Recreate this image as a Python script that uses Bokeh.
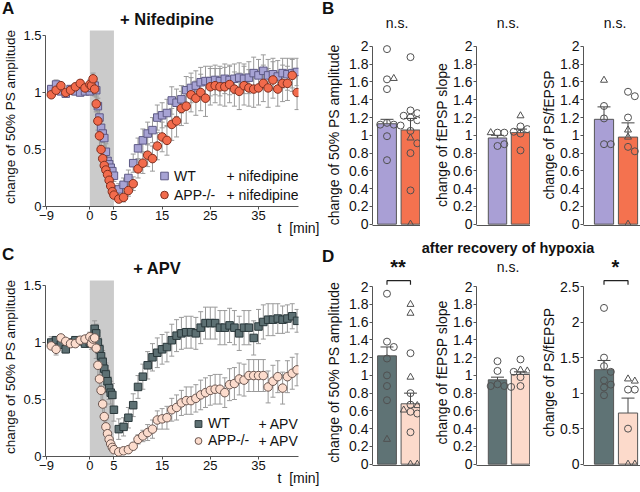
from bokeh.plotting import figure
from bokeh.models import (Range1d, FixedTicker, NumeralTickFormatter, BoxAnnotation,
                          Whisker, TeeHead, ColumnDataSource, Label, Legend, LegendItem, Div)
from bokeh.layouts import row, column
from bokeh.core.properties import value, field
from bokeh.embed import file_html
from bokeh.resources import INLINE

FONT = "Liberation Sans"
AX = "#555555"
ERR = "#9a9a9a"

# ---------------- time-course data (panels A and C) ----------------
time_min = [-8, -7, -6, -5, -4, -3, -2, -1,
            0, 0.33, 0.67, 1, 1.33, 1.67, 2, 2.33, 2.67, 3, 3.33, 3.67, 4, 4.33, 4.67, 5,
            6, 7, 8, 9, 10, 11, 12, 13, 14, 15, 16, 17, 18, 19, 20, 21, 22, 23, 24, 25,
            26, 27, 28, 29, 30, 31, 32, 33, 34, 35, 36, 37, 38, 39, 40, 41, 42, 43]
hypoxia_window = [0, 5]
x_ticks = [-9, 0, 5, 15, 25, 35]
tc_y_ticks = [0, 0.5, 1, 1.5]

wt_nif = [1.03, 1.07, 1.01, 0.99, 1.03, 1.01, 1.00, 1.01,
          1.01, 1.04, 1.07, 1.06, 1.02, 0.88, 0.78, 0.69, 0.64, 0.60, 0.48, 0.40, 0.37, 0.34, 0.31, 0.27,
          0.15, 0.19, 0.25, 0.38, 0.51, 0.58, 0.64, 0.67, 0.78, 0.80, 0.82, 0.93, 0.91, 0.94, 1.02, 1.04, 1.06, 1.09, 1.10, 1.10,
          1.11, 1.10, 1.12, 1.11, 1.12, 1.13, 1.12, 1.13, 1.17, 1.15, 1.19, 1.15, 1.16, 1.14, 1.17, 1.16, 1.17, 1.18]
wt_nif_sem = [0.03, 0.04, 0.03, 0.03, 0.03, 0.03, 0.03, 0.03,
              0.03, 0.04, 0.05, 0.06, 0.06, 0.07, 0.08, 0.08, 0.08, 0.07, 0.07, 0.07, 0.06, 0.06, 0.06, 0.05,
              0.05, 0.06, 0.07, 0.08, 0.09, 0.10, 0.10, 0.11, 0.11, 0.11, 0.12, 0.12, 0.12, 0.12, 0.12, 0.13, 0.13, 0.13, 0.13, 0.13,
              0.13, 0.13, 0.13, 0.13, 0.13, 0.13, 0.13, 0.14, 0.14, 0.14, 0.14, 0.14, 0.14, 0.14, 0.13, 0.14, 0.13, 0.12]
app_nif = [0.98, 1.02, 1.06, 1.00, 1.02, 1.05, 1.08, 1.04,
           1.07, 1.06, 1.12, 1.03, 0.90, 0.75, 0.62, 0.50, 0.42, 0.36, 0.32, 0.28, 0.23, 0.18, 0.13, 0.10,
           0.065, 0.08, 0.14, 0.20, 0.33, 0.38, 0.45, 0.42, 0.53, 0.61, 0.58, 0.72, 0.75, 0.86, 0.88, 0.98, 0.95, 1.00, 0.95, 1.05,
           1.06, 1.05, 1.05, 1.07, 1.03, 1.01, 1.06, 1.04, 1.03, 1.04, 1.08, 1.04, 1.11, 1.03, 1.08, 1.08, 1.15, 1.00]
app_nif_sem = [0.02, 0.02, 0.03, 0.02, 0.02, 0.03, 0.03, 0.03,
               0.04, 0.05, 0.05, 0.06, 0.07, 0.08, 0.09, 0.08, 0.07, 0.06, 0.05, 0.05, 0.05, 0.04, 0.04, 0.03,
               0.03, 0.04, 0.05, 0.06, 0.08, 0.09, 0.10, 0.11, 0.12, 0.13, 0.13, 0.14, 0.14, 0.15, 0.15, 0.15, 0.15, 0.16, 0.16, 0.16,
               0.15, 0.16, 0.17, 0.16, 0.15, 0.16, 0.17, 0.16, 0.16, 0.15, 0.16, 0.17, 0.16, 0.15, 0.16, 0.15, 0.14, 0.15]
wt_apv = [1.00, 1.02, 0.98, 0.94, 1.00, 1.02, 1.01, 0.99,
          1.00, 1.03, 1.05, 1.12, 1.08, 1.00, 0.94, 0.88, 0.83, 0.77, 0.72, 0.66, 0.60, 0.56, 0.54, 0.41,
          0.24, 0.26, 0.34, 0.45, 0.61, 0.70, 0.80, 0.87, 0.91, 0.94, 0.96, 1.02, 1.06, 1.08, 1.09, 1.09, 1.08, 1.13, 1.17, 1.17,
          1.17, 1.13, 1.13, 1.15, 1.13, 1.08, 1.13, 1.13, 1.04, 1.14, 1.18, 1.20, 1.20, 1.21, 1.20, 1.21, 1.23, 1.19]
wt_apv_sem = [0.05, 0.03, 0.03, 0.03, 0.03, 0.03, 0.03, 0.03,
              0.04, 0.05, 0.06, 0.07, 0.08, 0.09, 0.10, 0.10, 0.10, 0.10, 0.10, 0.10, 0.10, 0.10, 0.10, 0.10,
              0.09, 0.08, 0.09, 0.10, 0.10, 0.11, 0.12, 0.12, 0.13, 0.13, 0.13, 0.14, 0.14, 0.14, 0.14, 0.14, 0.14, 0.14, 0.14, 0.14,
              0.14, 0.15, 0.15, 0.15, 0.15, 0.15, 0.15, 0.15, 0.15, 0.15, 0.15, 0.14, 0.14, 0.13, 0.12, 0.12, 0.11, 0.10]
app_apv = [0.97, 0.94, 1.04, 1.01, 0.99, 0.99, 1.02, 1.03,
           1.05, 0.99, 1.03, 1.04, 0.95, 0.80, 0.68, 0.58, 0.46, 0.35, 0.26, 0.20, 0.15, 0.11, 0.08, 0.06,
           0.04, 0.05, 0.06, 0.09, 0.15, 0.18, 0.21, 0.24, 0.32, 0.33, 0.34, 0.41, 0.43, 0.47, 0.49, 0.49, 0.51, 0.54, 0.56, 0.58,
           0.59, 0.59, 0.56, 0.63, 0.64, 0.68, 0.67, 0.71, 0.71, 0.71, 0.71, 0.61, 0.66, 0.70, 0.60, 0.70, 0.73, 0.76]
app_apv_sem = [0.03, 0.05, 0.02, 0.02, 0.02, 0.02, 0.02, 0.03,
               0.04, 0.05, 0.06, 0.08, 0.09, 0.10, 0.10, 0.10, 0.09, 0.08, 0.06, 0.05, 0.04, 0.03, 0.03, 0.02,
               0.02, 0.02, 0.02, 0.03, 0.04, 0.05, 0.07, 0.08, 0.08, 0.09, 0.10, 0.10, 0.11, 0.11, 0.12, 0.12, 0.12, 0.13, 0.13, 0.13,
               0.13, 0.13, 0.13, 0.14, 0.14, 0.14, 0.14, 0.14, 0.14, 0.14, 0.14, 0.14, 0.14, 0.14, 0.14, 0.14, 0.14, 0.14]

# ---------------- bar data (panels B and D) ----------------
bar_ticks = [0, 0.2, 0.4, 0.6, 0.8, 1, 1.2, 1.4, 1.6, 1.8, 2]
ratio_ticks_d = [0, 0.5, 1, 1.5, 2, 2.5]

b_amp_mean = [1.13, 1.06]
b_amp_sem = [0.05, 0.13]
b_amp_wt = [1.97, 1.63, 1.64, 1.52, 1.14, 1.12, 1.12, 1.11, 0.99, 0.72]
b_amp_wt_kind = "cctccccccc"
b_amp_app = [1.88, 1.28, 1.25, 1.22, 1.20, 1.17, 1.05, 0.97, 0.91, 0.80, 0.38, 0.0]
b_amp_app_kind = "ccccccctccct"

b_slope_mean = [0.97, 1.03]
b_slope_sem = [0.03, 0.04]
b_slope_wt = [1.03, 1.03, 1.03, 0.88, 0.90]
b_slope_wt_kind = "cctcc"
b_slope_app = [1.22, 1.10, 1.07, 1.04, 1.02, 1.02, 0.83]
b_slope_app_kind = "tcccccc"

b_ratio_mean = [1.18, 0.98]
b_ratio_sem = [0.14, 0.16]
b_ratio_wt = [1.62, 1.33, 1.19, 0.90, 0.90]
b_ratio_wt_kind = "tcccc"
b_ratio_app = [1.49, 1.44, 1.20, 1.06, 0.98, 0.87, 0.82, 0.0]
b_ratio_app_kind = "cccttcct"

d_amp_mean = [1.22, 0.68]
d_amp_sem = [0.10, 0.12]
d_amp_wt = [1.92, 1.38, 1.32, 1.19, 1.00, 0.88, 0.72, 0.28]
d_amp_wt_kind = "ccccccct"
d_amp_app = [1.80, 1.70, 1.25, 0.98, 0.80, 0.67, 0.66, 0.61, 0.59, 0.57, 0.36, 0.0, 0.0]
d_amp_app_kind = "ttctccttccctt"

d_slope_mean = [0.95, 1.01]
d_slope_sem = [0.03, 0.03]
d_slope_wt = [1.16, 1.05, 0.90, 0.88, 0.88, 0.87]
d_slope_wt_kind = "cccccc"
d_slope_app = [1.18, 1.06, 1.05, 1.04, 1.00, 0.98, 0.88]
d_slope_app_kind = "cttcccc"

d_ratio_mean = [1.33, 0.72]
d_ratio_sem = [0.13, 0.21]
d_ratio_wt = [2.20, 1.50, 1.38, 1.30, 1.18, 1.12, 1.08, 0.97]
d_ratio_wt_kind = "cccccccc"
d_ratio_app = [1.20, 1.17, 1.05, 1.05, 0.50, 0.0, 0.0]
d_ratio_app_kind = "ttccctt"

b_sig = ["n.s.", "n.s.", "n.s."]
d_sig = ["**", "n.s.", "*"]


def base_fig(width, height, x_range, y_range, mbl, mbr, mbt, mbb, tick_px="14px"):
    p = figure(width=width, height=height, x_range=x_range, y_range=y_range, title=None,
               output_backend="svg", toolbar_location=None,
               min_border_left=mbl, min_border_right=mbr, min_border_top=mbt, min_border_bottom=mbb)
    p.outline_line_color = None
    p.xgrid.visible = False
    p.ygrid.visible = False
    p.background_fill_color = "white"
    p.border_fill_color = "white"
    for ax in (p.xaxis[0], p.yaxis[0]):
        ax.axis_line_color = AX
        ax.major_tick_line_color = AX
        ax.minor_tick_line_color = None
        ax.major_tick_in = 0
        ax.major_tick_out = 3
        ax.major_label_text_font = FONT
        ax.major_label_text_font_size = tick_px
        ax.major_label_text_color = "#111111"
        ax.major_label_standoff = 1
        ax.axis_label_text_font = FONT
        ax.axis_label_text_font_size = "14px"
        ax.axis_label_text_font_style = "normal"
        ax.axis_label_text_color = "#111111"
        ax.axis_label_standoff = 2
    return p


def inner_label(p, text, x, y, align="right"):
    p.add_layout(Label(x=x, y=y, x_units="screen", y_units="screen", text=text,
                       text_font=FONT, text_font_size="14px", text_align=align,
                       text_baseline="middle", text_color="#111111"))


def time_panel(height, wt, wt_sem, app, app_sem, wt_fill, wt_line, app_fill, app_line,
               treat, glyph_center_x, legend_y, gh, gap):
    width, mbl, mbr, mbt, fh = 320, 43, 22, 0, 179
    mbb = height - mbt - fh
    fw = width - mbl - mbr
    p = base_fig(width, height, Range1d(-9.2, 43.3), Range1d(0, 1.57), mbl, mbr, mbt, mbb,
                 tick_px="13px")
    p.xaxis.ticker = FixedTicker(ticks=x_ticks)
    p.yaxis.ticker = FixedTicker(ticks=tc_y_ticks)
    p.yaxis.formatter = NumeralTickFormatter(format="0.[0]")
    p.yaxis.bounds = (0, 1.5)
    p.yaxis.axis_label = "change of 50% PS amplitude"
    p.yaxis.axis_label_text_font_size = "13.5px"
    xa = p.xaxis[0]
    xa.axis_label = "t\u00a0\u00a0[min]"
    xa.axis_label_standoff = -3
    if "axis_label_align" in xa.properties():
        xa.axis_label_align = "end"
        xa.axis_label_text_align = "right"
    p.add_layout(BoxAnnotation(left=hypoxia_window[0], right=hypoxia_window[1], bottom=0, top=1.544,
                               fill_color="#cbcbcb", fill_alpha=1.0, line_color=None, level="underlay"))
    srcs = []
    for vals, sems in ((wt, wt_sem), (app, app_sem)):
        src = ColumnDataSource(dict(t=time_min, v=vals,
                                    lo=[a - b for a, b in zip(vals, sems)],
                                    hi=[a + b for a, b in zip(vals, sems)]))
        srcs.append(src)
        p.add_layout(Whisker(base="t", lower="lo", upper="hi", source=src, dimension="height",
                             line_color=ERR, line_width=1, level="underlay",
                             upper_head=TeeHead(size=5, line_color=ERR, line_width=1),
                             lower_head=TeeHead(size=5, line_color=ERR, line_width=1)))
    r_wt = p.scatter("t", "v", source=srcs[0], marker="square", size=7.5,
                     fill_color=wt_fill, line_color=wt_line, line_width=1)
    r_app = p.scatter("t", "v", source=srcs[1], marker="circle", size=8.5,
                      fill_color=app_fill, line_color=app_line, line_width=1)
    gw = 20
    leg = Legend(items=[LegendItem(label="WT", renderers=[r_wt]),
                        LegendItem(label="APP-/-", renderers=[r_app])],
                 location=(glyph_center_x - mbl - gw / 2, legend_y), orientation="vertical",
                 border_line_color=None, background_fill_alpha=0, padding=0, margin=0,
                 spacing=gap, glyph_width=gw, glyph_height=gh, label_height=gh, label_standoff=0,
                 label_text_font=FONT, label_text_font_size="14px", label_text_color="#111111")
    p.add_layout(leg)
    y_app = legend_y + gh / 2
    y_wt = legend_y + gh + gap + gh / 2
    inner_label(p, treat, fw - 2, y_wt)
    inner_label(p, treat, fw - 2, y_app)
    return p


def swarm(vals, ppu_x, ppu_y, d=6.8):
    placed, offs = [], []
    for v in vals:
        ox = 0.0
        for k in (0, 1, -1, 2, -2, 3, -3):
            ox = k * d / ppu_x
            if all(((ox - px) * ppu_x) ** 2 + ((v - py) * ppu_y) ** 2 >= d * d for px, py in placed):
                break
        placed.append((ox, v))
        offs.append(ox)
    return offs


def bar_panel(width, mbl, xr, height, mbt, mbb, y_bot, y_top, ticks, means, sems,
              wt_pts, wt_kind, app_pts, app_kind, colors, ylabel, lab_standoff, bracket_y=None):
    mbr = 0
    fw = width - mbl - mbr
    fh = height - mbt - mbb
    x0, x1 = xr
    p = base_fig(width, height, Range1d(x0, x1), Range1d(y_bot, y_top), mbl, mbr, mbt, mbb)
    ppu_x = fw / (x1 - x0)
    ppu_y = fh / (y_top - y_bot)
    p.xaxis.ticker = FixedTicker(ticks=[])
    p.xaxis.major_tick_out = 0
    p.yaxis.ticker = FixedTicker(ticks=ticks)
    p.yaxis.bounds = (ticks[0], ticks[-1])
    p.yaxis.formatter = NumeralTickFormatter(format="0.[0]")
    p.yaxis.axis_label = ylabel
    p.yaxis.axis_label_standoff = lab_standoff
    p.vbar(x=[1, 2], top=means, bottom=0, width=0.8, fill_color=colors,
           line_color="#555555", line_width=1)
    esrc = ColumnDataSource(dict(x=[1, 2],
                                 lo=[m - s for m, s in zip(means, sems)],
                                 hi=[m + s for m, s in zip(means, sems)]))
    p.add_layout(Whisker(base="x", lower="lo", upper="hi", source=esrc, dimension="height",
                         line_color="#444444", line_width=1,
                         upper_head=TeeHead(size=13, line_color="#444444", line_width=1),
                         lower_head=TeeHead(size=13, line_color="#444444", line_width=1)))
    for center, pts, kinds in ((1, wt_pts, wt_kind), (2, app_pts, app_kind)):
        offs = swarm(pts, ppu_x, ppu_y)
        src = ColumnDataSource(dict(x=[center + o for o in offs], y=pts,
                                    mk=["triangle" if k == "t" else "circle" for k in kinds]))
        p.scatter("x", "y", source=src, marker=field("mk"), size=7, fill_color=None,
                  line_color="#505050", line_width=1)
    if bracket_y is not None:
        drop = 4 / ppu_y
        p.line(x=[1, 1, 2, 2], y=[bracket_y - drop, bracket_y, bracket_y, bracket_y - drop],
               line_color="#222222", line_width=1.2)
    return p


def text_div(width, height, items):
    spans = []
    for text, left, top, size, lh, bold, centered in items:
        tf = "transform:translateX(-50%);" if centered else ""
        fw = "bold" if bold else "normal"
        spans.append('<span style="position:absolute;left:%spx;top:%spx;%swhite-space:nowrap;'
                     'font-size:%spx;font-weight:%s;line-height:%spx;">%s</span>'
                     % (left, top, tf, size, fw, lh, text))
    html = ('<div style="position:relative;width:%dpx;height:%dpx;'
            'font-family:\'Liberation Sans\',Arial,sans-serif;color:#111111;">%s</div>'
            % (width, height, "".join(spans)))
    return Div(text=html, width=width, height=height, margin=(0, 0, 0, 0))


# ---------------- panels ----------------
pA = time_panel(213, wt_nif, wt_nif_sem, app_nif, app_nif_sem,
                "#a7a3d4", "#5e5a86", "#f26b4c", "#7f2f1f",
                "+ nifedipine", 162, 2, 19, 0)
pC = time_panel(215, wt_apv, wt_apv_sem, app_apv, app_apv_sem,
                "#5d7073", "#2a383b", "#fcdccd", "#6a5650",
                "+ APV", 196, 7.5, 17, 0)

B_COL = ["#a99fd5", "#f4724f"]
D_COL = ["#5f7375", "#fcdacb"]
XR1, XR2, XR3 = (0.383, 2.426), (0.087, 2.435), (0.146, 2.52)

b1 = bar_panel(100, 52, XR1, 202, 6, 15, -0.015, 2.022, bar_ticks, b_amp_mean, b_amp_sem,
               b_amp_wt, b_amp_wt_kind, b_amp_app, b_amp_app_kind, B_COL,
               "change of 50% PS amplitude", 4)
b2 = bar_panel(110, 56, XR2, 202, 6, 15, -0.015, 2.022, bar_ticks, b_slope_mean, b_slope_sem,
               b_slope_wt, b_slope_wt_kind, b_slope_app, b_slope_app_kind, B_COL,
               "change of fEPSP slope", 0)
b3 = bar_panel(110, 53, XR3, 202, 6, 15, -0.015, 2.022, bar_ticks, b_ratio_mean, b_ratio_sem,
               b_ratio_wt, b_ratio_wt_kind, b_ratio_app, b_ratio_app_kind, B_COL,
               "change of PS/fEPSP", 0)

d1 = bar_panel(100, 52, XR1, 217, 4, 27, -0.015, 2.08, bar_ticks, d_amp_mean, d_amp_sem,
               d_amp_wt, d_amp_wt_kind, d_amp_app, d_amp_app_kind, D_COL,
               "change of 50% PS amplitude", 4, bracket_y=2.067)
d2 = bar_panel(110, 56, XR2, 217, 4, 27, -0.015, 2.08, bar_ticks, d_slope_mean, d_slope_sem,
               d_slope_wt, d_slope_wt_kind, d_slope_app, d_slope_app_kind, D_COL,
               "change of fEPSP slope", 0)
d3 = bar_panel(110, 53, XR3, 217, 4, 27, -0.019, 2.6, ratio_ticks_d, d_ratio_mean, d_ratio_sem,
               d_ratio_wt, d_ratio_wt_kind, d_ratio_app, d_ratio_app_kind, D_COL,
               "change of PS/fEPSP", 0, bracket_y=2.584)

divA = text_div(320, 27, [("A", 2, 0, 17, 17, True, False),
                          ("+ Nifedipine", 167, 11, 16.5, 17, True, True)])
divB = text_div(320, 38, [("B", 2, 0, 17, 17, True, False),
                          (b_sig[0], 77, 15, 14, 16, False, True),
                          (b_sig[1], 188, 15, 14, 16, False, True),
                          (b_sig[2], 295, 15, 14, 16, False, True)])
divC = text_div(320, 37, [("C", 2, 6, 17, 17, True, False),
                          ("+ APV", 157, 20, 16.5, 17, True, True)])
divD = text_div(320, 35, [("D", 2, 8, 17, 17, True, False),
                          ("after recovery of hypoxia", 188, 0, 14.5, 16, True, True),
                          (d_sig[0], 78, 21, 20, 12, True, True),
                          (d_sig[1], 188, 20, 14, 15, False, True),
                          (d_sig[2], 295.5, 21, 20, 12, True, True)])

layout = column(row(column(divA, pA), column(divB, row(b1, b2, b3))),
                row(column(divC, pC), column(divD, row(d1, d2, d3))))

open("out.html", "w").write(file_html(layout, INLINE, title="Hypoxia recovery"))
